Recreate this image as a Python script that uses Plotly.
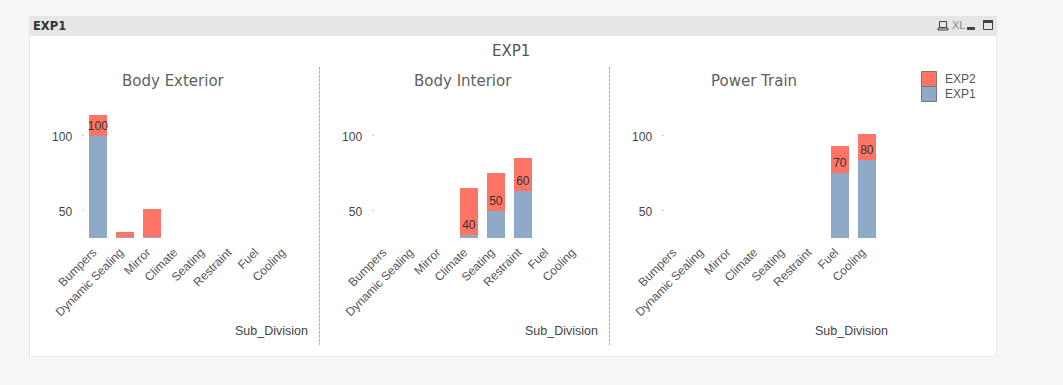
import plotly.graph_objects as go

categories = ["Bumpers", "Dynamic Sealing", "Mirror", "Climate", "Seating", "Restraint", "Fuel", "Cooling"]
panels = ["Body Exterior", "Body Interior", "Power Train"]

exp1_exterior = [100, 33, 33, None, None, None, None, None]
exp2_exterior = [14, 3, 18, None, None, None, None, None]
text_exterior = ["100", "", "", "", "", "", "", ""]

exp1_interior = [None, None, None, 34, 50, 63, None, None]
exp2_interior = [None, None, None, 31, 25, 22, None, None]
text_interior = ["", "", "", "40", "50", "60", "", ""]

exp1_power = [None, None, None, None, None, None, 75, 84]
exp2_power = [None, None, None, None, None, None, 18, 17]
text_power = ["", "", "", "", "", "", "70", "80"]

legend_names = ["EXP2", "EXP1"]
y_ticks = [50, 100]
y_range = [32, 115.3]

RED = "#ff7464"
BLUE = "#8fa9c8"
TXT = "#555555"
W, H = 1063, 385
SANS = "Liberation Sans"
TITLE = "DejaVu Sans"


def px(x):
    return x / W


def py(y):
    return 1 - y / H


fig = go.Figure()
series = [(exp1_exterior, exp2_exterior, text_exterior),
          (exp1_interior, exp2_interior, text_interior),
          (exp1_power, exp2_power, text_power)]
lefts = [84.5, 374.5, 664.5]
layout_axes = {}
for i, (e1, e2, t) in enumerate(series):
    s = "" if i == 0 else str(i + 1)
    fig.add_trace(go.Bar(x=categories, y=e1, name="EXP1", marker=dict(color=BLUE, line_width=0),
                         xaxis="x" + s, yaxis="y" + s, showlegend=False))
    fig.add_trace(go.Bar(x=categories, y=e2, name="EXP2", marker=dict(color=RED, line_width=0),
                         text=t, textposition="inside", insidetextanchor="start", textangle=0,
                         constraintext="none", textfont=dict(family=SANS, size=12, color="#333333"),
                         xaxis="x" + s, yaxis="y" + s, showlegend=False))
    layout_axes["xaxis" + s] = dict(domain=[px(lefts[i]), px(lefts[i] + 216)], anchor="y" + s,
                                    type="category", categoryorder="array", categoryarray=categories,
                                    range=[-0.5, 7.5], tickangle=-45, showgrid=False, showline=False,
                                    zeroline=False, ticks="", automargin=False,
                                    ticklabelstandoff=4, ticklabelshift=-5,
                                    tickfont=dict(family=SANS, size=12, color=TXT))
    layout_axes["yaxis" + s] = dict(domain=[py(238), py(113)], anchor="x" + s, range=y_range,
                                    tickvals=y_ticks, showgrid=False, showline=False, zeroline=False,
                                    ticks="outside", ticklen=2, tickwidth=1, tickcolor="#cccccc",
                                    ticklabelstandoff=7, ticklabelshift=1, automargin=False,
                                    tickfont=dict(family=SANS, size=12, color="#444444"))


def rect(x0, y0, x1, y1, fill="rgba(0,0,0,0)", line=None, width=1, layer="below"):
    return dict(type="rect", xref="paper", yref="paper", x0=px(x0), x1=px(x1), y0=py(y0), y1=py(y1),
                fillcolor=fill, line=dict(color=line or "rgba(0,0,0,0)", width=width if line else 0), layer=layer)


shapes = [
    rect(29.5, 16.5, 996.5, 356.5, "#ffffff", "#e8e8e8"),
    rect(29, 16, 997, 36, "#e6e6e6"),
    # window icons
    rect(939.5, 21.5, 946.5, 27.5, "rgba(0,0,0,0)", "#444444"),
    rect(938, 28, 948, 30, "rgba(0,0,0,0)", "#444444"),
    rect(967, 27, 975, 30, "#444444"),
    rect(983.5, 20.5, 992.5, 29.5, "rgba(0,0,0,0)", "#444444"),
    rect(983, 20, 993, 23, "#444444"),
    # legend swatches
    rect(921.5, 71.5, 936.5, 86.5, RED, "#777777", layer="above"),
    rect(921.5, 86.5, 936.5, 101.5, BLUE, "#777777", layer="above"),
]
for x in (320, 610):
    shapes.append(dict(type="line", xref="paper", yref="paper", x0=px(x - 0.5), x1=px(x - 0.5), y0=py(67), y1=py(345),
                       line=dict(color="#aaaaaa", width=1, dash="3px,1px")))


def note(x, y, text, size=12, color=TXT, family=SANS, anchor="center"):
    return dict(xref="paper", yref="paper", x=px(x), y=py(y), text=text, showarrow=False, xanchor=anchor,
                yanchor="middle", font=dict(family=family, size=size, color=color))


annotations = [
    note(31, 26, "<b>EXP1</b>", 11.5, "#333333", TITLE, "left"),
    note(511, 51, "EXP1", 15, "#555555", TITLE),
    note(958, 25, "XL", 11, "#888888", SANS),
    note(943, 78.5, legend_names[0], 12, TXT, SANS, "left"),
    note(943, 93.5, legend_names[1], 12, TXT, SANS, "left"),
]
for i, name in enumerate(panels):
    annotations.append(note(173 + 290 * i + (0 if i < 2 else 1), 81, name, 15, "#606060", TITLE))
    annotations.append(note(271.5 + 290 * i, 331, "Sub_Division", 12.5, "#444444", SANS))

fig.update_layout(width=W, height=H, margin=dict(l=0, r=0, t=0, b=0), autosize=False,
                  paper_bgcolor="#f7f7f7", plot_bgcolor="rgba(0,0,0,0)", barmode="stack", bargap=1 / 3,
                  showlegend=False, shapes=shapes, annotations=annotations, **layout_axes)
fig.write_html("out.html", post_script="document.body.style.margin='0';document.body.style.overflow='hidden';",
               config=dict(displayModeBar=False))
